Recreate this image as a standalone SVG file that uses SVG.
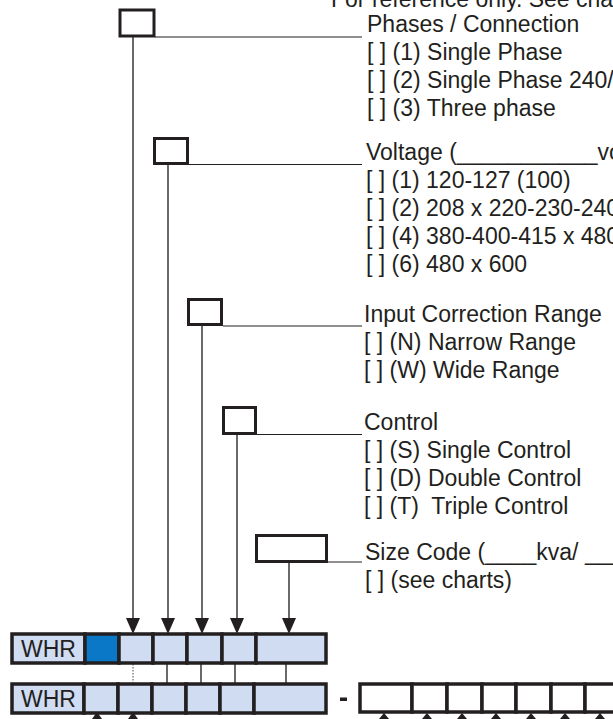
<svg xmlns="http://www.w3.org/2000/svg" width="613" height="719" viewBox="0 0 613 719">
<style>
.t{font-family:"Liberation Sans",Arial,sans-serif;font-size:23px;fill:#231f20}
.box{fill:#fff;stroke:#231f20;stroke-width:3}
.hl{stroke:#231f20;stroke-width:1.2;fill:none}
.vl{stroke:#444;stroke-width:1.6;fill:none}
.cell{fill:#cfdcf1;stroke:#231f20;stroke-width:3.5}
.blue{fill:#0a78c6;stroke:#231f20;stroke-width:3.5}
.wcell{fill:#fff;stroke:#231f20;stroke-width:3.5}
.arr{fill:#231f20}
</style>
<rect width="613" height="719" fill="#fff"/>
<g id="header">
<text class="t" x="331" y="7">For reference only. See cha</text>
</g>
<g id="connectors">
<line class="vl" x1="133" y1="37" x2="133" y2="620"/>
<line class="vl" x1="168" y1="165" x2="168" y2="620"/>
<line class="vl" x1="202" y1="326" x2="202" y2="620"/>
<line class="vl" x1="237" y1="435" x2="237" y2="620"/>
<line class="vl" x1="289" y1="563" x2="289" y2="620"/>
<line class="hl" x1="155" y1="37" x2="362" y2="37"/>
<line class="hl" x1="189" y1="164.5" x2="362" y2="164.5"/>
<line class="hl" x1="223" y1="326" x2="362" y2="326"/>
<line class="hl" x1="257" y1="434.5" x2="362" y2="434.5"/>
<line class="hl" x1="328" y1="562" x2="362" y2="562"/>
<polygon class="arr" points="126,618 140,618 133,634"/>
<polygon class="arr" points="161,618 175,618 168,634"/>
<polygon class="arr" points="195,618 209,618 202,634"/>
<polygon class="arr" points="230,618 244,618 237,634"/>
<polygon class="arr" points="282,618 296,618 289,634"/>
<line x1="133" y1="664" x2="133" y2="683" stroke="#444" stroke-width="1" stroke-dasharray="1.5,1.5"/>
<line class="vl" x1="167" y1="663" x2="167" y2="683" stroke-width="1.2"/>
<line class="vl" x1="201" y1="663" x2="201" y2="683" stroke-width="1.2"/>
<line class="vl" x1="235" y1="663" x2="235" y2="683" stroke-width="1.2"/>
<line class="vl" x1="286" y1="663" x2="286" y2="683" stroke-width="1.2"/>
<polygon class="arr" points="92,719 102,719 97,712"/>
<polygon class="arr" points="128,719 138,719 133,712"/>
<polygon class="arr" points="379,719 389,719 384,713"/>
<polygon class="arr" points="422,719 432,719 427,713"/>
<polygon class="arr" points="457,719 467,719 462,713"/>
<polygon class="arr" points="491,719 501,719 496,713"/>
<polygon class="arr" points="526,719 536,719 531,713"/>
<polygon class="arr" points="560,719 570,719 565,713"/>
<polygon class="arr" points="595,719 605,719 600,713"/>
</g>
<g id="phases">
<rect class="box" x="120" y="10" width="34" height="26"/>
<text class="t" x="367" y="32">Phases / Connection</text>
<text class="t" x="367" y="60">[ ] (1) Single Phase</text>
<text class="t" x="367" y="88">[ ] (2) Single Phase 240/1</text>
<text class="t" x="367" y="116">[ ] (3) Three phase</text>
</g>
<g id="voltage">
<rect class="box" x="154.5" y="138.5" width="33" height="25"/>
<text class="t" x="366" y="160">Voltage (___________vo</text>
<text class="t" x="366" y="188">[ ] (1) 120-127 (100)</text>
<text class="t" x="366" y="216">[ ] (2) 208 x 220-230-240</text>
<text class="t" x="366" y="244">[ ] (4) 380-400-415 x 480</text>
<text class="t" x="366" y="272">[ ] (6) 480 x 600</text>
</g>
<g id="input-range">
<rect class="box" x="188.5" y="299.5" width="33" height="25"/>
<text class="t" x="364" y="322">Input Correction Range</text>
<text class="t" x="364" y="350">[ ] (N) Narrow Range</text>
<text class="t" x="364" y="378">[ ] (W) Wide Range</text>
</g>
<g id="control">
<rect class="box" x="223.5" y="407.5" width="32" height="26"/>
<text class="t" x="364" y="430">Control</text>
<text class="t" x="364" y="458">[ ] (S) Single Control</text>
<text class="t" x="364" y="486">[ ] (D) Double Control</text>
<text class="t" x="364" y="514" xml:space="preserve">[ ] (T)  Triple Control</text>
</g>
<g id="size-code">
<rect class="box" x="256.5" y="535.5" width="70" height="26"/>
<text class="t" x="365" y="560">Size Code (____kva/ ___</text>
<text class="t" x="365" y="588">[ ] (see charts)</text>
</g>
<g id="model-row">
<rect class="cell" x="12" y="634" width="73" height="29"/>
<rect class="blue" x="85" y="634" width="34" height="29"/>
<rect class="cell" x="119" y="634" width="34" height="29"/>
<rect class="cell" x="153" y="634" width="34" height="29"/>
<rect class="cell" x="187" y="634" width="35" height="29"/>
<rect class="cell" x="222" y="634" width="34" height="29"/>
<rect class="cell" x="256" y="634" width="70" height="29"/>
<text class="t" x="21" y="657">WHR</text>
</g>
<g id="order-row">
<rect class="cell" x="12" y="684" width="72" height="29"/>
<rect class="cell" x="84" y="684" width="34" height="29"/>
<rect class="cell" x="118" y="684" width="34" height="29"/>
<rect class="cell" x="152" y="684" width="34" height="29"/>
<rect class="cell" x="186" y="684" width="34" height="29"/>
<rect class="cell" x="220" y="684" width="34" height="29"/>
<rect class="cell" x="254" y="684" width="72" height="29"/>
<text class="t" x="21" y="707">WHR</text>
</g>
<g id="suffix-row">
<rect x="340" y="697.5" width="7" height="3.5" fill="#231f20"/>
<rect class="wcell" x="360" y="684" width="52" height="28"/>
<rect class="wcell" x="412" y="684" width="35" height="28"/>
<rect class="wcell" x="447" y="684" width="35" height="28"/>
<rect class="wcell" x="482" y="684" width="34" height="28"/>
<rect class="wcell" x="516" y="684" width="35" height="28"/>
<rect class="wcell" x="551" y="684" width="34" height="28"/>
<rect class="wcell" x="585" y="684" width="40" height="28"/>
</g>
</svg>
